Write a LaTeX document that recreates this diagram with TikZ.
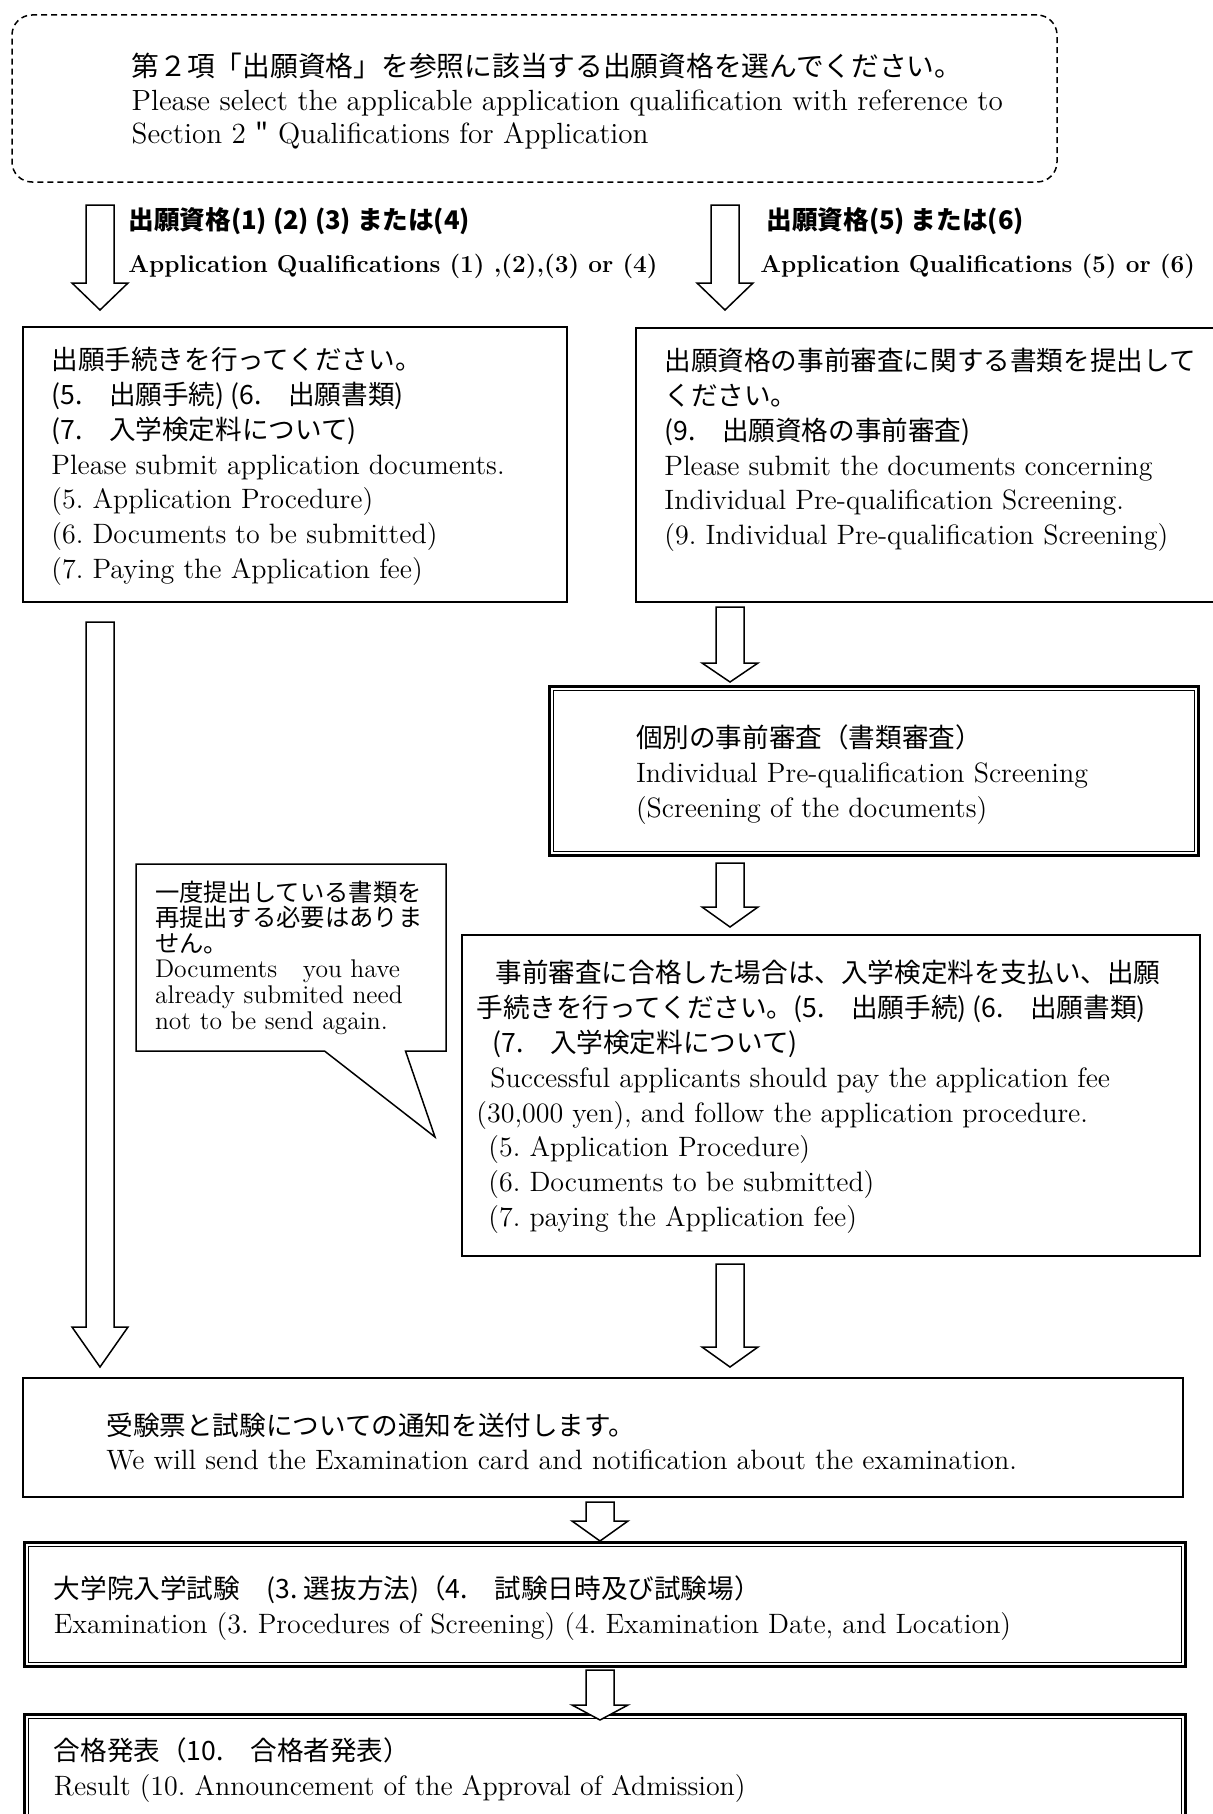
\documentclass[tikz,border=0pt]{standalone}
\usepackage{amsmath}
\usepackage{fontspec}
\newfontfamily\jp{Noto Sans CJK JP}[Scale=0.95]
\usepackage{tikz}
\usetikzlibrary{calc, fit, shapes.callouts}
\frenchspacing

\begin{document}
\begin{tikzpicture}[x=0.5pt, y=-0.5pt,
    boxframe/.style={draw, line width=1pt, inner sep=0pt},
    dblframe/.style={inner sep=0pt},
    txt/.style={align=left, inner sep=0pt, font=\fontsize{14}{17.4}\selectfont},
    lbl/.style={align=left, inner sep=0pt, font=\bfseries\fontsize{12.2}{21.5}\selectfont},
    fatarrow/.style={draw, fill=white, line width=0.75pt, line join=miter,
        to path={let \p1=(\tikztostart), \p2=(\tikztotarget) in
            (\x1-7pt,\y1) -- (\x1+7pt,\y1) -- (\x1+7pt,\y2+#1) -- (\x1+14pt,\y2+#1)
            -- (\x2,\y2) -- (\x1-14pt,\y2+#1) -- (\x1-7pt,\y2+#1) -- cycle}}]

	\useasboundingbox (0,0) rectangle (1213,1814);

	% frames
	\node[fit={(12,15) (1057,182)}, inner sep=0pt, draw, line width=0.75pt,
	      dash pattern=on 3pt off 2pt, rounded corners=10pt] (qual) {};
	\node[boxframe, fit={(23,327) (567,602)}] (apply) {};
	\node[boxframe, fit={(636,328) (1240,602)}] (pre) {};
	\node[dblframe, fit={(548,685) (1200,857)}] (screen) {};
	\node[boxframe, fit={(462,935) (1200,1256)}] (fee) {};
	\node[boxframe, fit={(23,1378) (1183,1497)}] (notice) {};
	\node[dblframe, fit={(23,1541) (1187,1668)}] (exam) {};
	\node[dblframe, fit={(23,1713) (1187,1828)}] (result) {};
	
	\foreach \n in {screen,exam,result}{
		\draw[line width=1.5pt] ([shift={(1.5,1.5)}]\n.north west) rectangle ([shift={(-1.5,-1.5)}]\n.south east);
		\draw[line width=0.5pt] ([shift={(5.5,5.5)}]\n.north west) rectangle ([shift={(-5.5,-5.5)}]\n.south east);
	}
	
	% texts
	\node[txt, anchor=west, font=\fontsize{14.6}{16.75}\selectfont] (qual-t) at ([shift={(120,3)}]qual.west)
	    {{\jp 第２項「出願資格」を参照に該当する出願資格を選んでください。}\\
	     Please select the applicable application qualification with reference to\\
	     Section 2 {\jp "} Qualifications for Application};
	
	\node[lbl, anchor=west] (q14) at (128,243.5)
	    {{\jp\fontsize{13.5}{21.5}\selectfont 出願資格(1) (2) (3) または(4)}\\
	     Application Qualifications (1) ,(2),(3) or (4)};
	\node[lbl, anchor=west] (q56) at (760,243.5)
	    {\hspace*{3pt}{\jp\fontsize{13.5}{21.5}\selectfont 出願資格(5) または(6)}\\
	     Application Qualifications (5) or (6)};
	
	\node[txt, anchor=west] (apply-t) at ([shift={(29,2)}]apply.west)
	    {{\jp 出願手続きを行ってください。}\\
	     {\jp (5.　出願手続) (6.　出願書類)}\\
	     {\jp (7.　入学検定料について)}\\
	     Please submit application documents.\\
	     (5. Application Procedure)\\
	     (6. Documents to be submitted)\\
	     (7. Paying the Application fee)};
	
	\node[txt, anchor=west] (pre-t) at ([shift={(29,-15)}]pre.west)
	    {{\jp 出願資格の事前審査に関する書類を提出して}\\
	     {\jp ください。}\\
	     {\jp (9.　出願資格の事前審査)}\\
	     Please submit the documents concerning\\
	     Individual Pre-qualification Screening.\\
	     (9. Individual Pre-qualification Screening)};
	
	\node[txt, anchor=west] (screen-t) at ([shift={(88,3.5)}]screen.west)
	    {{\jp 個別の事前審査（書類審査）}\\
	     Individual Pre-qualification Screening\\
	     (Screening of the documents)};
	
	\node[txt, anchor=west] (fee-t) at ([shift={(15,1.5)}]fee.west)
	    {\hspace*{9.5pt}{\jp 事前審査に合格した場合は、入学検定料を支払い、出願}\\
	     {\jp 手続きを行ってください。(5.　出願手続) (6.　出願書類)}\\
	     \hspace*{8pt}{\jp (7.　入学検定料について)}\\
	     \hspace*{7pt}Successful applicants should pay the application fee\\
	     (30,000 yen), and follow the application procedure.\\
	     \hspace*{6pt}(5. Application Procedure)\\
	     \hspace*{6pt}(6. Documents to be submitted)\\
	     \hspace*{6pt}(7. paying the Application fee)};
	
	\node[txt, anchor=west] (notice-t) at ([shift={(84,4)}]notice.west)
	    {{\jp 受験票と試験についての通知を送付します。}\\
	     We will send the Examination card and notification about the examination.};
	
	\node[txt, anchor=west] (exam-t) at ([shift={(31,3.5)}]exam.west)
	    {{\jp 大学院入学試験　(3. 選抜方法)（4.　試験日時及び試験場）}\\
	     Examination (3. Procedures of Screening) (4. Examination Date, and Location)};
	
	\node[txt, anchor=west] (result-t) at ([shift={(31,0)}]result.west)
	    {{\jp 合格発表（10.　合格者発表）}\\
	     Result (10. Announcement of the Approval of Admission)};
	
	% callout
	\node[rectangle callout, draw, line width=0.75pt, fill=white,
	      callout absolute pointer={(435,1137)}, callout pointer width=40.5pt,
	      minimum width=155pt, minimum height=93.5pt, text width=136pt,
	      inner xsep=9.5pt, inner ysep=0pt, align=left,
	      font=\fontsize{12.8}{12.8}\selectfont] (again) at (291,957.5)
	    {{\jp 一度提出している書類を}\\
	     {\jp 再提出する必要はありま}\\
	     {\jp せん。}\\
	     Documents\quad you have\\
	     already submited need\\
	     not to be send again.};
	
	% arrows
	\coordinate (a1s) at (100,205);  \coordinate (a1e) at (100,310);
	\coordinate (a2s) at (725,205);  \coordinate (a2e) at (725,310);
	\coordinate (a3s) at (100,622);  \coordinate (a3e) at (100,1367);
	\coordinate (a4s) at (730,607);  \coordinate (a4e) at (730,682);
	\coordinate (a5s) at (730,863);  \coordinate (a5e) at (730,927);
	\coordinate (a6s) at (730,1264); \coordinate (a6e) at (730,1367);
	\coordinate (a7s) at (600,1502); \coordinate (a7e) at (600,1541);
	\coordinate (a8s) at (600,1670); \coordinate (a8e) at (600,1720);
	
	\draw[fatarrow=13.5pt] (a1s) to (a1e);
	\draw[fatarrow=13.5pt] (a2s) to (a2e);
	\draw[fatarrow=20pt] (a3s) to (a3e);
	\draw[fatarrow=9.5pt] (a4s) to (a4e);
	\draw[fatarrow=10pt] (a5s) to (a5e);
	\draw[fatarrow=10pt] (a6s) to (a6e);
	\draw[fatarrow=10pt] (a7s) to (a7e);
	\draw[fatarrow=7.5pt] (a8s) to (a8e);
\end{tikzpicture}
\end{document}
